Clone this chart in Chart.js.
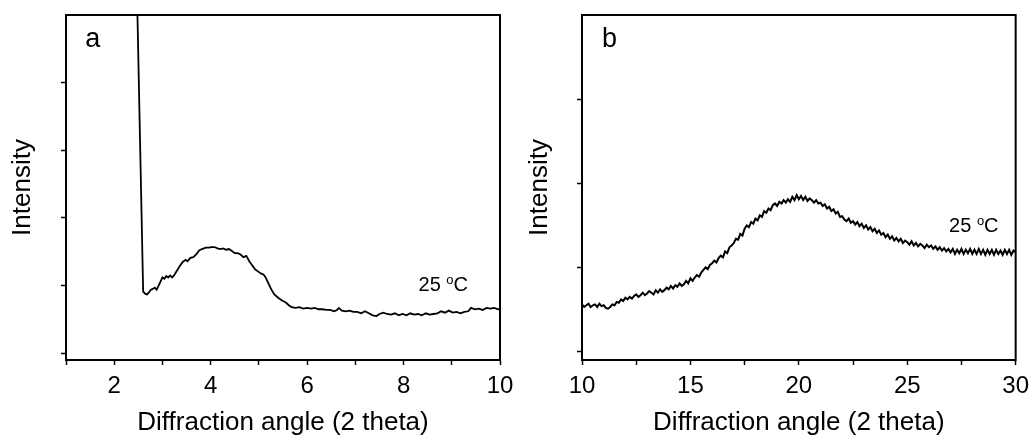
<!DOCTYPE html>
<html>
<head>
<meta charset="utf-8">
<script src="https://cdn.jsdelivr.net/npm/chart.js@4.4.1/dist/chart.umd.min.js"></script>
<style>
  body { margin: 0; background: #fff; }
  #wrap { position: relative; width: 1035px; height: 439px; }
  #chartA { position: absolute; left: 0; top: 0; }
  #chartB { position: absolute; left: 520px; top: 0; }
</style>
</head>
<body>
<div id="wrap">
  <canvas id="chartA" width="520" height="439"></canvas>
  <canvas id="chartB" width="515" height="439"></canvas>
</div>
<script>
// Panel a - small angle region
const angleA = [2.47, 2.60, 2.64, 2.68, 2.72, 2.76, 2.80, 2.84, 2.88, 2.92, 2.96, 3.00, 3.04, 3.08, 3.12, 3.16, 3.20, 3.24,
  3.30, 3.36, 3.42, 3.48, 3.52, 3.58, 3.64, 3.70, 3.76, 3.82, 3.90, 3.96, 4.02, 4.08, 4.14, 4.20, 4.26, 4.32, 4.38,
  4.44, 4.50, 4.56, 4.62, 4.68, 4.74, 4.80, 4.86, 4.92, 4.98, 5.04, 5.10, 5.14, 5.20, 5.26, 5.32, 5.40, 5.48, 5.56,
  5.62, 5.68, 5.76, 5.84, 5.92, 6.00, 6.08, 6.16, 6.24, 6.32, 6.40, 6.48, 6.56, 6.62, 6.66, 6.72, 6.80, 6.88, 6.96,
  7.04, 7.12, 7.20, 7.28, 7.36, 7.44, 7.50, 7.58, 7.66, 7.74, 7.82, 7.90, 7.98, 8.06, 8.14, 8.22, 8.30, 8.38, 8.46,
  8.54, 8.62, 8.70, 8.78, 8.86, 8.94, 9.02, 9.10, 9.18, 9.26, 9.34, 9.40, 9.48, 9.56, 9.64, 9.72, 9.80, 9.88, 9.96, 10.0];
const intensityA = [5.4, 0.91, 0.88, 0.87, 0.90, 0.94, 0.95, 0.97, 0.94, 1.00, 1.06, 1.12, 1.10, 1.14, 1.12, 1.15, 1.12, 1.15,
  1.22, 1.29, 1.35, 1.38, 1.36, 1.41, 1.42, 1.46, 1.52, 1.54, 1.56, 1.56, 1.57, 1.57, 1.55, 1.54, 1.55, 1.53, 1.54,
  1.51, 1.48, 1.48, 1.46, 1.42, 1.44, 1.36, 1.30, 1.24, 1.21, 1.18, 1.16, 1.12, 1.03, 0.94, 0.87, 0.82, 0.78, 0.75,
  0.71, 0.68, 0.67, 0.68, 0.66, 0.67, 0.66, 0.67, 0.65, 0.65, 0.64, 0.64, 0.62, 0.64, 0.67, 0.63, 0.62, 0.63, 0.61,
  0.61, 0.59, 0.62, 0.59, 0.56, 0.55, 0.58, 0.60, 0.58, 0.57, 0.59, 0.56, 0.58, 0.56, 0.59, 0.57, 0.58, 0.56, 0.59,
  0.57, 0.58, 0.59, 0.62, 0.60, 0.63, 0.60, 0.61, 0.59, 0.61, 0.62, 0.67, 0.65, 0.66, 0.64, 0.67, 0.66, 0.67, 0.65, 0.66];

// Panel b - wide angle region
const angleB = [
  10.0, 10.1, 10.2, 10.3, 10.4, 10.5, 10.6, 10.7, 10.8, 10.9,
  11.0, 11.1, 11.2, 11.3, 11.4, 11.5, 11.6, 11.7, 11.8, 11.9,
  12.0, 12.1, 12.2, 12.3, 12.4, 12.5, 12.6, 12.7, 12.8, 12.9,
  13.0, 13.1, 13.2, 13.3, 13.4, 13.5, 13.6, 13.7, 13.8, 13.9,
  14.0, 14.1, 14.2, 14.3, 14.4, 14.5, 14.6, 14.7, 14.8, 14.9,
  15.0, 15.1, 15.2, 15.3, 15.4, 15.5, 15.6, 15.7, 15.8, 15.9,
  16.0, 16.1, 16.2, 16.3, 16.4, 16.5, 16.6, 16.7, 16.8, 16.9,
  17.0, 17.1, 17.2, 17.3, 17.4, 17.5, 17.6, 17.7, 17.8, 17.9,
  18.0, 18.1, 18.2, 18.3, 18.4, 18.5, 18.6, 18.7, 18.8, 18.9,
  19.0, 19.1, 19.2, 19.3, 19.4, 19.5, 19.6, 19.7, 19.8, 19.9,
  20.0, 20.1, 20.2, 20.3, 20.4, 20.5, 20.6, 20.7, 20.8, 20.9,
  21.0, 21.1, 21.2, 21.3, 21.4, 21.5, 21.6, 21.7, 21.8, 21.9,
  22.0, 22.1, 22.2, 22.3, 22.4, 22.5, 22.6, 22.7, 22.8, 22.9,
  23.0, 23.1, 23.2, 23.3, 23.4, 23.5, 23.6, 23.7, 23.8, 23.9,
  24.0, 24.1, 24.2, 24.3, 24.4, 24.5, 24.6, 24.7, 24.8, 24.9,
  25.0, 25.1, 25.2, 25.3, 25.4, 25.5, 25.6, 25.7, 25.8, 25.9,
  26.0, 26.1, 26.2, 26.3, 26.4, 26.5, 26.6, 26.7, 26.8, 26.9,
  27.0, 27.1, 27.2, 27.3, 27.4, 27.5, 27.6, 27.7, 27.8, 27.9,
  28.0, 28.1, 28.2, 28.3, 28.4, 28.5, 28.6, 28.7, 28.8, 28.9,
  29.0, 29.1, 29.2, 29.3, 29.4, 29.5, 29.6, 29.7, 29.8, 29.9,
  30.0];
const intensityB = [
  0.56, 0.53, 0.55, 0.57, 0.53, 0.55, 0.56, 0.53, 0.57, 0.54,
  0.55, 0.52, 0.51, 0.53, 0.56, 0.55, 0.59, 0.58, 0.62, 0.60,
  0.64, 0.62, 0.65, 0.63, 0.66, 0.68, 0.65, 0.67, 0.70, 0.67,
  0.69, 0.72, 0.70, 0.68, 0.73, 0.70, 0.74, 0.71, 0.73, 0.76,
  0.74, 0.78, 0.75, 0.79, 0.77, 0.81, 0.78, 0.80, 0.84, 0.81,
  0.87, 0.84, 0.88, 0.91, 0.89, 0.94, 0.97, 1.00, 0.98, 1.03,
  1.05, 1.08, 1.06, 1.11, 1.14, 1.12, 1.19, 1.17, 1.24, 1.26,
  1.29, 1.34, 1.33, 1.40, 1.38, 1.46, 1.50, 1.48, 1.54, 1.52,
  1.58, 1.56, 1.62, 1.60, 1.67, 1.65, 1.70, 1.68, 1.74, 1.76,
  1.73, 1.78, 1.76, 1.80, 1.77, 1.81, 1.78, 1.84, 1.80, 1.86,
  1.81, 1.85, 1.80, 1.84, 1.79, 1.82, 1.80, 1.77, 1.80, 1.76,
  1.77, 1.73, 1.75, 1.70, 1.72, 1.67, 1.69, 1.64, 1.66, 1.60,
  1.61, 1.57, 1.55, 1.58, 1.53, 1.55, 1.51, 1.54, 1.49, 1.52,
  1.47, 1.50, 1.45, 1.48, 1.43, 1.46, 1.41, 1.44, 1.39, 1.41,
  1.36, 1.39, 1.34, 1.37, 1.32, 1.35, 1.31, 1.34, 1.29, 1.32,
  1.30, 1.27, 1.31, 1.26, 1.29, 1.25, 1.28, 1.26, 1.23, 1.27,
  1.24, 1.26, 1.22, 1.25, 1.21, 1.24, 1.20, 1.23, 1.19, 1.22,
  1.18, 1.22, 1.16, 1.21, 1.17, 1.22, 1.16, 1.21, 1.17, 1.22,
  1.16, 1.21, 1.16, 1.22, 1.16, 1.21, 1.15, 1.21, 1.16, 1.21,
  1.15, 1.21, 1.16, 1.20, 1.15, 1.21, 1.16, 1.21, 1.15, 1.20,
  1.18];

// tick marks and labels
const xTicksA = [1, 2, 3, 4, 5, 6, 7, 8, 9, 10];
const xLabelsA = [2, 4, 6, 8, 10];
const yTicksA = [0, 1, 2, 3, 4];
const xTicksB = [10, 12.5, 15, 17.5, 20, 22.5, 25, 27.5, 30];
const xLabelsB = [10, 15, 20, 25, 30];
const yTicksB = [0, 1, 2, 3];

const FONT = "'Liberation Sans', Arial, sans-serif";

// frame around plot + panel letter + temperature note
const panelText = {
  id: 'panelText',
  afterDraw(chart, args, opts) {
    const ctx = chart.ctx;
    const a = chart.chartArea;
    const xs = chart.scales.x, ys = chart.scales.y;
    ctx.save();
    ctx.strokeStyle = '#000';
    ctx.lineWidth = 2;
    ctx.strokeRect(a.left, a.top, a.right - a.left, a.bottom - a.top);
    ctx.fillStyle = '#000';
    ctx.textBaseline = 'alphabetic';
    ctx.textAlign = 'left';
    ctx.font = '27px ' + FONT;
    ctx.fillText(opts.letter, xs.getPixelForValue(opts.letterAt[0]), ys.getPixelForValue(opts.letterAt[1]));
    let x = xs.getPixelForValue(opts.noteAt[0]);
    const y = ys.getPixelForValue(opts.noteAt[1]);
    ctx.font = '20px ' + FONT;
    ctx.fillText('25 ', x, y);
    x += ctx.measureText('25 ').width;
    ctx.font = '13px ' + FONT;
    ctx.fillText('o', x, y - 7);
    x += ctx.measureText('o').width;
    ctx.font = '20px ' + FONT;
    ctx.fillText('C', x, y);
    ctx.restore();
  }
};

function makeOptions(xMin, xMax, yMax, xTicks, xLabels, yTicks, leftW, padRight, titlePad, text) {
  return {
    responsive: false,
    animation: false,
    events: [],
    layout: { padding: { top: 15, right: padRight, left: 0, bottom: 0 } },
    plugins: {
      legend: { display: false },
      tooltip: { enabled: false },
      panelText: text
    },
    scales: {
      x: {
        type: 'linear',
        min: xMin,
        max: xMax,
        afterBuildTicks: s => { s.ticks = xTicks.map(v => ({ value: v })); },
        afterFit: s => { s.height = 79; },
        border: { color: '#000', width: 2 },
        grid: { drawOnChartArea: false, color: '#000', tickLength: 5, tickWidth: 1.5 },
        ticks: {
          color: '#000',
          padding: 6,
          maxRotation: 0,
          autoSkip: false,
          font: { family: FONT, size: 24, lineHeight: 1.3 },
          callback: v => xLabels.includes(v) ? String(v) : ''
        },
        title: {
          display: true,
          text: 'Diffraction angle (2 theta)',
          color: '#000',
          font: { family: FONT, size: 26 },
          padding: { top: 0, bottom: 1 }
        }
      },
      y: {
        type: 'linear',
        min: -0.1,
        max: yMax,
        afterBuildTicks: s => { s.ticks = yTicks.map(v => ({ value: v })); },
        afterFit: s => { s.width = leftW; },
        border: { color: '#000', width: 2 },
        grid: { drawOnChartArea: false, color: '#000', tickLength: 5, tickWidth: 1.5 },
        ticks: { display: false },
        title: {
          display: true,
          text: 'Intensity',
          color: '#000',
          font: { family: FONT, size: 26 },
          padding: { top: titlePad, bottom: 0 }
        }
      }
    }
  };
}

const chartA = new Chart(document.getElementById('chartA'), {
  type: 'line',
  data: {
    datasets: [{
      data: angleA.map((x, i) => ({ x: x, y: intensityA[i] })),
      borderColor: '#000',
      borderWidth: 1.8,
      pointRadius: 0,
      tension: 0
    }]
  },
  options: makeOptions(1, 10, 5, xTicksA, xLabelsA, yTicksA, 66, 20, 7,
    { letter: 'a', letterAt: [1.40, 4.53], noteAt: [8.31, 0.92] }),
  plugins: [panelText]
});

const chartB = new Chart(document.getElementById('chartB'), {
  type: 'line',
  data: {
    datasets: [{
      data: angleB.map((x, i) => ({ x: x, y: intensityB[i] })),
      borderColor: '#000',
      borderWidth: 2,
      pointRadius: 0,
      tension: 0
    }]
  },
  options: makeOptions(10, 30, 4, xTicksB, xLabelsB, yTicksB, 62, 16, 4,
    { letter: 'b', letterAt: [10.92, 3.62], noteAt: [26.93, 1.42] }),
  plugins: [panelText]
});
</script>
</body>
</html>
